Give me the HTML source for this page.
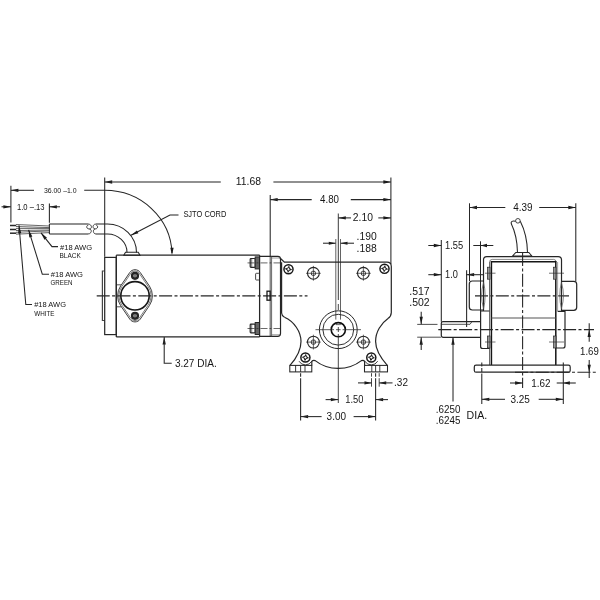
<!DOCTYPE html>
<html><head><meta charset="utf-8"><title>Gearmotor dimensions</title>
<style>
html,body{margin:0;padding:0;background:#fff;}
body{width:600px;height:600px;overflow:hidden;font-family:"Liberation Sans",sans-serif;}
svg{display:block;}
</style></head><body>
<svg width="600" height="600" viewBox="0 0 600 600" stroke-linecap="butt">
<defs><filter id="soft" filterUnits="userSpaceOnUse" x="0" y="0" width="600" height="600"><feGaussianBlur stdDeviation="0.38"/></filter><filter id="soft2" filterUnits="userSpaceOnUse" x="0" y="0" width="600" height="600"><feGaussianBlur stdDeviation="0.25"/></filter></defs>
<rect x="0" y="0" width="600" height="600" fill="#ffffff"/>
<g filter="url(#soft)">
<line x1="10.9" y1="185.8" x2="10.9" y2="222.5" stroke="#262626" stroke-width="1.05"/>
<line x1="49.4" y1="203.5" x2="49.4" y2="222.8" stroke="#262626" stroke-width="1.05"/>
<polygon points="10.90,190.30 18.40,188.65 18.40,191.95" fill="#1a1a1a"/>
<line x1="10.9" y1="190.3" x2="34" y2="190.3" stroke="#262626" stroke-width="1.05"/>
<path d="M84.2,190.3 L104.7,190.3 A67.3,65 0 0 1 172,253" fill="none" stroke="#262626" stroke-width="1.05" />
<polygon points="172.00,255.20 170.35,247.70 173.65,247.70" fill="#1a1a1a"/>
<line x1="1.5" y1="206.8" x2="10.9" y2="206.8" stroke="#262626" stroke-width="1.05"/>
<polygon points="10.90,206.80 3.40,208.45 3.40,205.15" fill="#1a1a1a"/>
<polygon points="49.40,206.80 56.90,205.15 56.90,208.45" fill="#1a1a1a"/>
<line x1="49.4" y1="206.8" x2="60" y2="206.8" stroke="#262626" stroke-width="1.05"/>
<path d="M16,224.5 L49.4,226 M16,226.5 L49.4,227.6" fill="none" stroke="#333" stroke-width="0.75" />
<path d="M16,228.4 L49.4,228.4 M16,230.5 L49.4,230" fill="none" stroke="#333" stroke-width="0.75" />
<path d="M16,232.3 L49.4,230.9 M16,234.2 L49.4,232.6" fill="none" stroke="#333" stroke-width="0.75" />
<line x1="10" y1="225.5" x2="16.2" y2="225.5" stroke="#2a2a2a" stroke-width="1.5"/>
<line x1="10" y1="229.5" x2="16.2" y2="229.5" stroke="#2a2a2a" stroke-width="1.5"/>
<line x1="10" y1="233.2" x2="16.2" y2="233.2" stroke="#2a2a2a" stroke-width="1.5"/>
<path d="M49.4,224 L88,224 M49.4,234 L88,234 M49.4,224 L49.4,234" fill="none" stroke="#262626" stroke-width="1.05" />
<path d="M88,224 C92,224 92.5,229 89.5,229 C86,229 86,225.5 88.3,225.2 M88,234 C91.5,234 92.5,229.6 89.5,229" fill="none" stroke="#262626" stroke-width="0.85" />
<path d="M96,224 C92.5,224 92,228.6 95,229 C98,229 98.5,225.6 96.3,225.2 M96,234 C93,234 92.5,229.6 95,229" fill="none" stroke="#262626" stroke-width="0.85" />
<path d="M96,224 L107.5,224 A29,28.5 0 0 1 136.5,252.5 M96,234 L107.5,234 A19.5,18.5 0 0 1 127,252.5" fill="none" stroke="#262626" stroke-width="1.05" />
<path d="M125.5,252.3 L138.2,252.3 L140,255.3 L123.8,255.3 Z" fill="none" stroke="#262626" stroke-width="1.05" />
<path d="M41,232.8 L52,246.6 L58,246.6" fill="none" stroke="#262626" stroke-width="1.05" />
<polygon points="41.00,232.80 46.93,237.66 44.43,239.66" fill="#1a1a1a"/>
<path d="M28.6,229.8 L42.3,274.2 L49,274.2" fill="none" stroke="#262626" stroke-width="1.05" />
<polygon points="28.60,229.80 32.33,236.50 29.28,237.44" fill="#1a1a1a"/>
<path d="M19,225.3 L25.8,304.5 L32,304.5" fill="none" stroke="#262626" stroke-width="1.05" />
<polygon points="19.00,225.30 21.28,233.13 18.09,233.41" fill="#1a1a1a"/>
<path d="M131,235.3 L170,215 L178.5,215" fill="none" stroke="#262626" stroke-width="1.05" />
<polygon points="131.00,235.30 136.91,230.42 138.39,233.26" fill="#1a1a1a"/>
<line x1="104.7" y1="177.5" x2="104.7" y2="256.7" stroke="#262626" stroke-width="1.05"/>
<line x1="390.9" y1="177.5" x2="390.9" y2="264" stroke="#262626" stroke-width="1.05"/>
<polygon points="104.70,182.00 112.20,180.35 112.20,183.65" fill="#1a1a1a"/>
<line x1="104.7" y1="182" x2="220.8" y2="182" stroke="#262626" stroke-width="1.05"/>
<line x1="273.4" y1="182" x2="390.9" y2="182" stroke="#262626" stroke-width="1.05"/>
<polygon points="390.90,182.00 383.40,183.65 383.40,180.35" fill="#1a1a1a"/>
<line x1="270.2" y1="195" x2="270.2" y2="256" stroke="#262626" stroke-width="1.05"/>
<polygon points="270.20,199.60 277.70,197.95 277.70,201.25" fill="#1a1a1a"/>
<line x1="270.2" y1="199.6" x2="311.7" y2="199.6" stroke="#262626" stroke-width="1.05"/>
<line x1="350.8" y1="199.6" x2="390.9" y2="199.6" stroke="#262626" stroke-width="1.05"/>
<polygon points="390.90,199.60 383.40,201.25 383.40,197.95" fill="#1a1a1a"/>
<line x1="338.3" y1="213.5" x2="338.3" y2="300" stroke="#262626" stroke-width="0.9"/>
<polygon points="338.30,217.90 345.80,216.25 345.80,219.55" fill="#1a1a1a"/>
<line x1="338.3" y1="217.9" x2="351" y2="217.9" stroke="#262626" stroke-width="1.05"/>
<line x1="378.3" y1="217.9" x2="390.9" y2="217.9" stroke="#262626" stroke-width="1.05"/>
<polygon points="390.90,217.90 383.40,219.55 383.40,216.25" fill="#1a1a1a"/>
<line x1="323" y1="243.2" x2="335.8" y2="243.2" stroke="#262626" stroke-width="1.05"/>
<polygon points="335.80,243.20 328.80,244.75 328.80,241.65" fill="#1a1a1a"/>
<polygon points="340.50,243.20 347.50,241.65 347.50,244.75" fill="#1a1a1a"/>
<line x1="340.5" y1="243.2" x2="354" y2="243.2" stroke="#262626" stroke-width="1.05"/>
<line x1="335.8" y1="239" x2="335.8" y2="319.6" stroke="#3a3a3a" stroke-width="0.8"/>
<line x1="340.5" y1="239" x2="340.5" y2="319.6" stroke="#3a3a3a" stroke-width="0.8"/>
<path d="M104.7,271 L102.4,271 L102.4,320.5 L104.7,320.5" fill="none" stroke="#444" stroke-width="1.2" />
<rect x="104.7" y="257.4" width="11.6" height="77.2" rx="0" fill="none" stroke="#262626" stroke-width="1.2"/>
<path d="M116.3,255.2 L259.6,255.2 M116.3,336.9 L259.6,336.9 M116.3,255.2 L116.3,336.9 M259.6,255.2 L259.6,336.9" fill="none" stroke="#262626" stroke-width="1.25" />
<line x1="116.3" y1="284.8" x2="121.5" y2="284.8" stroke="#262626" stroke-width="0.8"/>
<line x1="116.3" y1="306.8" x2="121.5" y2="306.8" stroke="#262626" stroke-width="0.8"/>
<path d="M129.78,272.47 A6.3,6.3 0 0 1 140.22,272.47 L149.41,286.05 A17.4,17.4 0 0 1 149.41,305.55 L140.22,319.13 A6.3,6.3 0 0 1 129.78,319.13 L120.59,305.55 A17.4,17.4 0 0 1 120.59,286.05 Z" fill="#fff" stroke="#262626" stroke-width="0.9" />
<path d="M130.86,273.20 A5.0,5.0 0 0 1 139.14,273.20 L148.33,286.77 A16.1,16.1 0 0 1 148.33,304.83 L139.14,318.40 A5.0,5.0 0 0 1 130.86,318.40 L121.67,304.83 A16.1,16.1 0 0 1 121.67,286.77 Z" fill="none" stroke="#444" stroke-width="0.7" />
<circle cx="135" cy="295.8" r="14.2" fill="none" stroke="#151515" stroke-width="1.6"/>
<circle cx="135" cy="275.8" r="2.95" fill="#aaa" stroke="#262626" stroke-width="2.3"/>
<line x1="135" y1="273.6" x2="135" y2="278.0" stroke="#333" stroke-width="0.8"/>
<circle cx="135" cy="315.8" r="2.95" fill="#aaa" stroke="#262626" stroke-width="2.3"/>
<line x1="135" y1="313.6" x2="135" y2="318.0" stroke="#333" stroke-width="0.8"/>
<line x1="96.7" y1="295.8" x2="307.5" y2="295.8" stroke="#262626" stroke-width="1.2" stroke-dasharray="13 2.4 3 2.4"/>
<polygon points="164.20,337.00 165.85,344.50 162.55,344.50" fill="#1a1a1a"/>
<path d="M164.2,337 L164.2,363.3 L171.7,363.3" fill="none" stroke="#262626" stroke-width="1.05" />
<rect x="250.2" y="258.5" width="5" height="8.8" rx="0.8" fill="none" stroke="#262626" stroke-width="1.2"/>
<rect x="255.2" y="256.9" width="4.3" height="12" rx="0" fill="#666" stroke="#262626" stroke-width="1.0"/>
<line x1="251.7" y1="258.5" x2="251.7" y2="267.29999999999995" stroke="#262626" stroke-width="0.6"/>
<line x1="247.5" y1="262.9" x2="281" y2="262.9" stroke="#262626" stroke-width="0.7" stroke-dasharray="7 2 2 2"/>
<rect x="250.2" y="324.1" width="5" height="8.8" rx="0.8" fill="none" stroke="#262626" stroke-width="1.2"/>
<rect x="255.2" y="322.5" width="4.3" height="12" rx="0" fill="#666" stroke="#262626" stroke-width="1.0"/>
<line x1="251.7" y1="324.1" x2="251.7" y2="332.9" stroke="#262626" stroke-width="0.6"/>
<line x1="247.5" y1="328.5" x2="281" y2="328.5" stroke="#262626" stroke-width="0.7" stroke-dasharray="7 2 2 2"/>
<rect x="255.6" y="273.3" width="3.9" height="6.7" rx="0.8" fill="none" stroke="#262626" stroke-width="0.85"/>
<path d="M259.6,256.4 L277.7,256.4 Q280.5,256.4 280.5,259.2 L280.5,333.6 Q280.5,336.4 277.7,336.4 L259.6,336.4" fill="none" stroke="#262626" stroke-width="1.2" />
<line x1="270.2" y1="256.4" x2="270.2" y2="336.4" stroke="#262626" stroke-width="0.8"/>
<line x1="271.6" y1="256.4" x2="271.6" y2="336.4" stroke="#444" stroke-width="0.8"/>
<line x1="271.6" y1="258" x2="280.5" y2="258" stroke="#555" stroke-width="0.6"/>
<line x1="271.6" y1="334.8" x2="280.5" y2="334.8" stroke="#555" stroke-width="0.6"/>
<rect x="267" y="291.2" width="3.2" height="9" rx="0" fill="none" stroke="#1a1a1a" stroke-width="1.3"/>
<path d="M280.3,258.2 L284.4,262.2 L387,262.2 Q391.3,262.2 391.3,266.5 L391.3,312.5 Q391.2,316.2 388,318.6" fill="none" stroke="#262626" stroke-width="1.2" />
<path d="M388,318.6 C381,323.5 375.6,332 375.6,341.5 C375.6,349.5 379,356 387.3,365.4" fill="none" stroke="#262626" stroke-width="1.2" />
<path d="M281.6,262.2 L281.6,313 Q281.8,316 284.5,317.3" fill="none" stroke="#262626" stroke-width="1.2" />
<path d="M284.5,317.3 C294,321.5 301,331.5 301,341.5 C301,350 297.5,357 290,365.4" fill="none" stroke="#262626" stroke-width="1.2" />
<rect x="289.8" y="365.4" width="22" height="6.5" rx="0" fill="none" stroke="#262626" stroke-width="1.05"/>
<line x1="295.6" y1="365.4" x2="295.6" y2="371.9" stroke="#262626" stroke-width="0.9"/>
<line x1="300.6" y1="365.4" x2="300.6" y2="371.9" stroke="#262626" stroke-width="0.9"/>
<line x1="305" y1="365.4" x2="305" y2="371.9" stroke="#262626" stroke-width="0.9"/>
<rect x="364.5" y="365.4" width="23" height="6.5" rx="0" fill="none" stroke="#262626" stroke-width="1.05"/>
<line x1="371.8" y1="365.4" x2="371.8" y2="371.9" stroke="#262626" stroke-width="0.9"/>
<line x1="375.6" y1="365.4" x2="375.6" y2="371.9" stroke="#262626" stroke-width="0.9"/>
<line x1="379.8" y1="365.4" x2="379.8" y2="371.9" stroke="#262626" stroke-width="0.9"/>
<path d="M311.8,365.4 L311.8,361.4 Q313,359.8 315.2,360.6 C322,366 330,368.4 338.3,368.4 C346.5,368.4 354.5,366 361.4,360.6 Q363.6,359.8 364.6,361.4 L364.6,365.4" fill="none" stroke="#262626" stroke-width="1.2" />
<path d="M298.99,361.20 A7.4,7.4 0 0 0 311.81,361.20" fill="none" stroke="#262626" stroke-width="0.9" />
<path d="M364.89,361.20 A7.4,7.4 0 0 0 377.71,361.20" fill="none" stroke="#262626" stroke-width="0.9" />
<circle cx="288.5" cy="269.2" r="4.55" fill="none" stroke="#151515" stroke-width="1.45"/>
<path d="M285.8,269.2 L287.6,268.3 L288.5,266.5 L289.4,268.3 L291.2,269.2 L289.4,270.09999999999997 L288.5,271.9 L287.6,270.09999999999997 Z" fill="none" stroke="#222" stroke-width="1.0" transform="rotate(8 288.5 269.2)"/>
<circle cx="384.5" cy="268.8" r="4.55" fill="none" stroke="#151515" stroke-width="1.45"/>
<path d="M381.8,268.8 L383.6,267.90000000000003 L384.5,266.1 L385.4,267.90000000000003 L387.2,268.8 L385.4,269.7 L384.5,271.5 L383.6,269.7 Z" fill="none" stroke="#222" stroke-width="1.0" transform="rotate(8 384.5 268.8)"/>
<circle cx="305.4" cy="357.5" r="4.55" fill="none" stroke="#151515" stroke-width="1.45"/>
<path d="M302.7,357.5 L304.5,356.6 L305.4,354.8 L306.29999999999995,356.6 L308.09999999999997,357.5 L306.29999999999995,358.4 L305.4,360.2 L304.5,358.4 Z" fill="none" stroke="#222" stroke-width="1.0" transform="rotate(8 305.4 357.5)"/>
<circle cx="371.3" cy="357.5" r="4.55" fill="none" stroke="#151515" stroke-width="1.45"/>
<path d="M368.6,357.5 L370.40000000000003,356.6 L371.3,354.8 L372.2,356.6 L374.0,357.5 L372.2,358.4 L371.3,360.2 L370.40000000000003,358.4 Z" fill="none" stroke="#222" stroke-width="1.0" transform="rotate(8 371.3 357.5)"/>
<circle cx="313.4" cy="273.3" r="5.9" fill="none" stroke="#262626" stroke-width="1.1"/>
<rect x="311.4" y="271.3" width="4" height="4" rx="1.2" fill="none" stroke="#262626" stroke-width="0.95"/>
<path d="M306.0,273.3 L320.79999999999995,273.3 M313.4,265.90000000000003 L313.4,280.7" fill="none" stroke="#262626" stroke-width="0.7" />
<circle cx="363.4" cy="273.3" r="5.9" fill="none" stroke="#262626" stroke-width="1.1"/>
<rect x="361.4" y="271.3" width="4" height="4" rx="1.2" fill="none" stroke="#262626" stroke-width="0.95"/>
<path d="M356.0,273.3 L370.79999999999995,273.3 M363.4,265.90000000000003 L363.4,280.7" fill="none" stroke="#262626" stroke-width="0.7" />
<circle cx="313.4" cy="342.1" r="5.9" fill="none" stroke="#262626" stroke-width="1.1"/>
<rect x="311.4" y="340.1" width="4" height="4" rx="1.2" fill="none" stroke="#262626" stroke-width="0.95"/>
<path d="M306.0,342.1 L320.79999999999995,342.1 M313.4,334.70000000000005 L313.4,349.5" fill="none" stroke="#262626" stroke-width="0.7" />
<circle cx="363.4" cy="342.1" r="5.9" fill="none" stroke="#262626" stroke-width="1.1"/>
<rect x="361.4" y="340.1" width="4" height="4" rx="1.2" fill="none" stroke="#262626" stroke-width="0.95"/>
<path d="M356.0,342.1 L370.79999999999995,342.1 M363.4,334.70000000000005 L363.4,349.5" fill="none" stroke="#262626" stroke-width="0.7" />
<circle cx="338.3" cy="329.7" r="18.9" fill="none" stroke="#262626" stroke-width="1.0"/>
<circle cx="338.3" cy="329.7" r="15.4" fill="none" stroke="#262626" stroke-width="0.95"/>
<circle cx="338.3" cy="329.7" r="7.1" fill="none" stroke="#111" stroke-width="1.6"/>
<path d="M315.5,329.7 L334,329.7 M336,329.7 L340.6,329.7 M342.6,329.7 L361,329.7" fill="none" stroke="#262626" stroke-width="0.75" />
<path d="M338.3,304 L338.3,310 M338.3,327 L338.3,332 M338.3,334 L338.3,403" fill="none" stroke="#262626" stroke-width="0.85" />
<path d="M336,322.8 L336,324.6 L340.6,324.6 L340.6,322.8" fill="none" stroke="#262626" stroke-width="0.7" />
<line x1="300.6" y1="373.2" x2="300.6" y2="420.5" stroke="#262626" stroke-width="1.05" stroke-dasharray="3.5 1.5 60 0"/>
<line x1="375.6" y1="373.2" x2="375.6" y2="420.5" stroke="#262626" stroke-width="1.05" stroke-dasharray="3.5 1.5 60 0"/>
<line x1="371.5" y1="373.2" x2="371.5" y2="386.7" stroke="#262626" stroke-width="0.85" stroke-dasharray="3.5 1.5 60 0"/>
<line x1="379.2" y1="373.2" x2="379.2" y2="386.7" stroke="#262626" stroke-width="0.85" stroke-dasharray="3.5 1.5 60 0"/>
<line x1="358" y1="382.9" x2="371.5" y2="382.9" stroke="#262626" stroke-width="1.05"/>
<polygon points="371.50,382.90 364.50,384.45 364.50,381.35" fill="#1a1a1a"/>
<polygon points="379.20,382.90 386.20,381.35 386.20,384.45" fill="#1a1a1a"/>
<line x1="379.2" y1="382.9" x2="392.5" y2="382.9" stroke="#262626" stroke-width="1.05"/>
<line x1="325.6" y1="399.6" x2="338.3" y2="399.6" stroke="#262626" stroke-width="1.05"/>
<polygon points="338.30,399.60 330.80,401.25 330.80,397.95" fill="#1a1a1a"/>
<polygon points="375.60,399.60 383.10,397.95 383.10,401.25" fill="#1a1a1a"/>
<line x1="375.6" y1="399.6" x2="388" y2="399.6" stroke="#262626" stroke-width="1.05"/>
<polygon points="300.60,416.60 308.10,414.95 308.10,418.25" fill="#1a1a1a"/>
<line x1="300.6" y1="416.6" x2="321.6" y2="416.6" stroke="#262626" stroke-width="1.05"/>
<line x1="353.6" y1="416.6" x2="375.6" y2="416.6" stroke="#262626" stroke-width="1.05"/>
<polygon points="375.60,416.60 368.10,418.25 368.10,414.95" fill="#1a1a1a"/>
<line x1="469.5" y1="203.3" x2="469.5" y2="281" stroke="#262626" stroke-width="1.05"/>
<line x1="575.8" y1="203.3" x2="575.8" y2="281.5" stroke="#262626" stroke-width="1.05"/>
<polygon points="469.50,207.50 477.00,205.85 477.00,209.15" fill="#1a1a1a"/>
<line x1="469.5" y1="207.5" x2="505.3" y2="207.5" stroke="#262626" stroke-width="1.05"/>
<line x1="539.2" y1="207.5" x2="575.8" y2="207.5" stroke="#262626" stroke-width="1.05"/>
<polygon points="575.80,207.50 568.30,209.15 568.30,205.85" fill="#1a1a1a"/>
<line x1="441.3" y1="240" x2="441.3" y2="321.7" stroke="#262626" stroke-width="1.05"/>
<line x1="480.5" y1="241.3" x2="480.5" y2="311" stroke="#262626" stroke-width="1.05"/>
<line x1="428.3" y1="245.5" x2="441.3" y2="245.5" stroke="#262626" stroke-width="1.05"/>
<polygon points="441.30,245.50 433.80,247.15 433.80,243.85" fill="#1a1a1a"/>
<line x1="473.3" y1="245.5" x2="493.3" y2="245.5" stroke="#262626" stroke-width="1.05"/>
<polygon points="480.50,245.50 487.00,243.85 487.00,247.15" fill="#1a1a1a"/>
<line x1="428.3" y1="274.7" x2="441.3" y2="274.7" stroke="#262626" stroke-width="1.05"/>
<polygon points="441.30,274.70 433.80,276.35 433.80,273.05" fill="#1a1a1a"/>
<line x1="466.6" y1="270.3" x2="466.6" y2="327" stroke="#262626" stroke-width="1.05"/>
<polygon points="466.60,274.70 474.10,273.05 474.10,276.35" fill="#1a1a1a"/>
<line x1="466.6" y1="274.7" x2="483.5" y2="274.7" stroke="#262626" stroke-width="1.05"/>
<path d="M517.5,252.5 C517.3,243 515.3,232 511.3,223.8 C510.5,221.5 512.5,220.4 515.6,221.3 M527.5,252.5 C527.3,241 524.5,229.5 520.3,221.2" fill="none" stroke="#262626" stroke-width="1.05" />
<circle cx="517.9" cy="220.8" r="2.3" fill="none" stroke="#262626" stroke-width="0.85"/>
<path d="M515.8,252.5 L528.8,252.5 L531.8,256 L512.6,256 Z" fill="none" stroke="#262626" stroke-width="1.05" />
<path d="M483.5,311 L483.5,259.8 Q483.5,256.6 486.8,256.6 L558.2,256.6 Q561.5,256.6 561.5,259.8 L561.5,311" fill="none" stroke="#262626" stroke-width="1.2" />
<path d="M489.6,262 Q489.6,259.4 492.2,259.4 L553.6,259.4 Q556,259.4 556,262" fill="none" stroke="#555" stroke-width="0.7" />
<path d="M491.4,365 L491.4,261.8 L555.8,261.8 L555.8,365" fill="none" stroke="#151515" stroke-width="1.5" />
<line x1="489.5" y1="262" x2="489.5" y2="365" stroke="#3a3a3a" stroke-width="0.75"/>
<line x1="557.6" y1="262" x2="557.6" y2="311" stroke="#666" stroke-width="0.6"/>
<line x1="491.4" y1="318" x2="555.8" y2="318" stroke="#555" stroke-width="1.1"/>
<line x1="522.6" y1="253" x2="522.6" y2="388" stroke="#262626" stroke-width="1.1" stroke-dasharray="13 2.4 3 2.4"/>
<line x1="475" y1="295.9" x2="569" y2="295.9" stroke="#262626" stroke-width="1.1" stroke-dasharray="13 2.4 3 2.4"/>
<line x1="438.3" y1="329.6" x2="594" y2="329.6" stroke="#262626" stroke-width="1.1" stroke-dasharray="13 2.4 3 2.4"/>
<rect x="487.4" y="267.2" width="2.6" height="12" rx="0" fill="#999" stroke="#262626" stroke-width="0.7"/>
<line x1="485" y1="273.2" x2="495.5" y2="273.2" stroke="#262626" stroke-width="0.65"/>
<rect x="553.6" y="267.2" width="2.4" height="12" rx="0" fill="#999" stroke="#262626" stroke-width="0.7"/>
<line x1="549" y1="273.2" x2="564" y2="273.2" stroke="#262626" stroke-width="0.65"/>
<rect x="487.4" y="336" width="2.6" height="12" rx="0" fill="#999" stroke="#262626" stroke-width="0.7"/>
<line x1="485" y1="342" x2="495.5" y2="342" stroke="#262626" stroke-width="0.65"/>
<rect x="553.6" y="336" width="2.4" height="12" rx="0" fill="#999" stroke="#262626" stroke-width="0.7"/>
<line x1="549" y1="342" x2="564" y2="342" stroke="#262626" stroke-width="0.65"/>
<path d="M483.5,281 L472.3,281 Q469.3,281 469.3,284 L469.3,307 Q469.3,310 472.3,310 L483.5,310" fill="none" stroke="#262626" stroke-width="1.2" />
<path d="M483.5,283 Q479.5,295.5 483.5,308" fill="none" stroke="#555" stroke-width="0.7" />
<path d="M483.5,282 Q486.8,295.5 483.5,309" fill="none" stroke="#555" stroke-width="0.7" />
<path d="M561.5,281.3 L573.7,281.3 Q576.7,281.3 576.7,284.3 L576.7,307.3 Q576.7,310.3 573.7,310.3 L561.5,310.3" fill="none" stroke="#262626" stroke-width="1.2" />
<path d="M561.5,283 Q565.5,295.5 561.5,308" fill="none" stroke="#555" stroke-width="0.7" />
<path d="M561.5,282 Q558,295.5 561.5,309" fill="none" stroke="#555" stroke-width="0.7" />
<path d="M489.5,311 L480.6,311 L480.6,346.5 Q480.6,348.5 482.6,348.5 L489.5,348.5" fill="none" stroke="#262626" stroke-width="1.2" />
<path d="M557.6,311.3 L565,311.3 L565,346 Q565,348 563,348 L555.8,348" fill="none" stroke="#262626" stroke-width="1.2" />
<path d="M480.6,321.6 L443,321.6 Q441.3,321.6 441.3,323.3 L441.3,335.6 Q441.3,337.3 443,337.3 L480.6,337.3" fill="none" stroke="#262626" stroke-width="1.2" />
<path d="M441.3,324.3 L470,324.3 L472,321.6" fill="none" stroke="#262626" stroke-width="0.8" />
<path d="M476,365.2 L568.5,365.2 Q570.2,365.2 570.2,367 L570.2,370.4 Q570.2,372.2 568.5,372.2 L476,372.2 Q474.3,372.2 474.3,370.4 L474.3,367 Q474.3,365.2 476,365.2 Z" fill="none" stroke="#262626" stroke-width="1.2" />
<line x1="515" y1="372.2" x2="596" y2="372.2" stroke="#262626" stroke-width="1.1" stroke-dasharray="13 2.4 3 2.4"/>
<line x1="421.2" y1="311.7" x2="421.2" y2="324.3" stroke="#262626" stroke-width="1.05"/>
<polygon points="421.20,324.30 419.55,316.80 422.85,316.80" fill="#1a1a1a"/>
<line x1="417.2" y1="324.4" x2="437.5" y2="324.4" stroke="#262626" stroke-width="0.8"/>
<line x1="417.2" y1="337.2" x2="441" y2="337.2" stroke="#262626" stroke-width="0.8"/>
<polygon points="421.20,337.20 422.85,344.70 419.55,344.70" fill="#1a1a1a"/>
<line x1="421.2" y1="337.2" x2="421.2" y2="350" stroke="#262626" stroke-width="1.05"/>
<polygon points="453.00,337.30 454.65,344.80 451.35,344.80" fill="#1a1a1a"/>
<line x1="453" y1="337.3" x2="453" y2="401.5" stroke="#262626" stroke-width="1.05"/>
<line x1="481.8" y1="362.5" x2="481.8" y2="404" stroke="#262626" stroke-width="1.05" stroke-dasharray="4 1.5 4 1.5 40 0"/>
<line x1="563.3" y1="362.5" x2="563.3" y2="404" stroke="#262626" stroke-width="1.05"/>
<polygon points="481.80,399.30 489.30,397.65 489.30,400.95" fill="#1a1a1a"/>
<line x1="481.8" y1="399.3" x2="505" y2="399.3" stroke="#262626" stroke-width="1.05"/>
<line x1="538.7" y1="399.3" x2="563.3" y2="399.3" stroke="#262626" stroke-width="1.05"/>
<polygon points="563.30,399.30 555.80,400.95 555.80,397.65" fill="#1a1a1a"/>
<line x1="510" y1="383" x2="522.6" y2="383" stroke="#262626" stroke-width="1.05"/>
<polygon points="522.60,383.00 515.10,384.65 515.10,381.35" fill="#1a1a1a"/>
<line x1="556.7" y1="383" x2="575.8" y2="383" stroke="#262626" stroke-width="1.05"/>
<polygon points="563.30,383.00 569.80,381.35 569.80,384.65" fill="#1a1a1a"/>
<line x1="589.2" y1="323.3" x2="589.2" y2="341.7" stroke="#262626" stroke-width="1.05"/>
<polygon points="589.20,329.60 590.85,337.10 587.55,337.10" fill="#1a1a1a"/>
<line x1="589.2" y1="360" x2="589.2" y2="378" stroke="#262626" stroke-width="1.05"/>
<polygon points="589.20,372.20 587.55,364.70 590.85,364.70" fill="#1a1a1a"/>
</g>
<g filter="url(#soft2)" font-family="'Liberation Sans', sans-serif" fill="#161616">
<text x="43.9" y="192.9" font-size="7.56" textLength="32.7" lengthAdjust="spacingAndGlyphs">36.00 –1.0</text>
<text x="17.0" y="209.9" font-size="8.57" textLength="27.5" lengthAdjust="spacingAndGlyphs">1.0 –.13</text>
<text x="60.0" y="249.5" font-size="7.41" textLength="32.2" lengthAdjust="spacingAndGlyphs">#18 AWG</text>
<text x="59.5" y="258.1" font-size="7.41" textLength="21.4" lengthAdjust="spacingAndGlyphs">BLACK</text>
<text x="50.8" y="276.8" font-size="7.41" textLength="32.2" lengthAdjust="spacingAndGlyphs">#18 AWG</text>
<text x="50.5" y="285.1" font-size="7.41" textLength="22.0" lengthAdjust="spacingAndGlyphs">GREEN</text>
<text x="34.2" y="307.1" font-size="7.41" textLength="31.8" lengthAdjust="spacingAndGlyphs">#18 AWG</text>
<text x="34.2" y="316.2" font-size="7.41" textLength="20.3" lengthAdjust="spacingAndGlyphs">WHITE</text>
<text x="183.4" y="217.3" font-size="8.57" textLength="43.0" lengthAdjust="spacingAndGlyphs">SJTO CORD</text>
<text x="235.8" y="185.4" font-size="11.19" textLength="25.2" lengthAdjust="spacingAndGlyphs">11.68</text>
<text x="320.1" y="202.7" font-size="11.19" textLength="18.9" lengthAdjust="spacingAndGlyphs">4.80</text>
<text x="352.8" y="221.4" font-size="11.19" textLength="20.1" lengthAdjust="spacingAndGlyphs">2.10</text>
<text x="356.6" y="240.4" font-size="11.19" textLength="20.15" lengthAdjust="spacingAndGlyphs">.190</text>
<text x="356.6" y="252.1" font-size="11.19" textLength="20.2" lengthAdjust="spacingAndGlyphs">.188</text>
<text x="174.9" y="366.8" font-size="11.05" textLength="41.8" lengthAdjust="spacingAndGlyphs">3.27 DIA.</text>
<text x="394.1" y="386.4" font-size="10.9" textLength="13.9" lengthAdjust="spacingAndGlyphs">.32</text>
<text x="345.3" y="403.4" font-size="10.9" textLength="18.1" lengthAdjust="spacingAndGlyphs">1.50</text>
<text x="326.6" y="420" font-size="10.9" textLength="19.4" lengthAdjust="spacingAndGlyphs">3.00</text>
<text x="513.2" y="211.1" font-size="11.19" textLength="19.3" lengthAdjust="spacingAndGlyphs">4.39</text>
<text x="445.1" y="249.3" font-size="11.05" textLength="18.1" lengthAdjust="spacingAndGlyphs">1.55</text>
<text x="445.1" y="278.4" font-size="11.05" textLength="12.8" lengthAdjust="spacingAndGlyphs">1.0</text>
<text x="409.3" y="294.8" font-size="11.05" textLength="20.4" lengthAdjust="spacingAndGlyphs">.517</text>
<text x="409.3" y="305.6" font-size="11.05" textLength="20.4" lengthAdjust="spacingAndGlyphs">.502</text>
<text x="435.8" y="413" font-size="10.9" textLength="24.6" lengthAdjust="spacingAndGlyphs">.6250</text>
<text x="435.8" y="424.2" font-size="10.9" textLength="24.6" lengthAdjust="spacingAndGlyphs">.6245</text>
<text x="466.6" y="419.2" font-size="10.61" textLength="20.6" lengthAdjust="spacingAndGlyphs">DIA.</text>
<text x="510.4" y="403" font-size="10.9" textLength="19.5" lengthAdjust="spacingAndGlyphs">3.25</text>
<text x="531.2" y="386.7" font-size="10.9" textLength="19.25" lengthAdjust="spacingAndGlyphs">1.62</text>
<text x="580.1" y="355.3" font-size="10.9" textLength="18.7" lengthAdjust="spacingAndGlyphs">1.69</text>
</g>
</svg>
</body></html>
